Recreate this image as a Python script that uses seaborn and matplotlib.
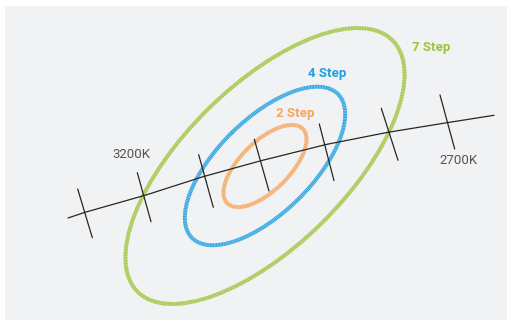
import matplotlib
matplotlib.use("Agg")
import matplotlib.pyplot as plt
import seaborn as sns
from matplotlib.patches import Ellipse

# Planckian locus (diagram units, y grows downward)
locus_x = [68, 85, 146, 203, 261, 327, 388, 447, 494]
locus_y = [218, 212.3, 195, 176.7, 160.7, 144.3, 132.3, 122.7, 115.3]

# isotemperature ticks, 3300K .. 2700K
tick_cct = [3300, 3200, 3100, 3000, 2900, 2800, 2700]
tick_x0 = [77.7, 137.3, 198.7, 254.3, 319.3, 381.3, 440]
tick_y0 = [189, 172.7, 154.7, 139.3, 124, 108.3, 95]
tick_x1 = [92.3, 151, 213.3, 269, 334, 398, 454.7]
tick_y1 = [237.7, 221.7, 207.3, 191, 180.7, 160.3, 149]

# MacAdam ellipses
step_names = ["2 Step", "4 Step", "7 Step"]
step_width = [106, 205, 358]
step_height = [49, 94, 161]
step_colors = ["#f6a55a", "#1e9fe0", "#9fc43c"]
center_x, center_y, tilt = 265, 166, -44.5
label_x = [295.5, 327, 431]
label_y = [114, 73, 48]

cct_labels = ["3200K", "2700K"]
cct_label_x = [131, 459]
cct_label_y = [155, 161]

sns.set_theme(style="white")
plt.rcParams["font.family"] = ["Roboto", "DejaVu Sans"]

fig = plt.figure(figsize=(5.07, 3.2), dpi=100)
fig.patch.set_facecolor("white")
ax = fig.add_axes([5 / 507, 0, 502 / 507, 314 / 320])
ax.set_facecolor("#f1f2f4")

# striped outline: pale base plus fine dashes on top
for w, h, c in zip(step_width, step_height, step_colors):
    ax.add_patch(Ellipse((center_x, center_y), w, h, angle=tilt, fill=False,
                         edgecolor=c, lw=2.8, alpha=0.5))
    ax.add_patch(Ellipse((center_x, center_y), w, h, angle=tilt, fill=False,
                         edgecolor=c, lw=2.8, linestyle=(0, (0.2, 0.2))))

sns.lineplot(x=locus_x, y=locus_y, sort=False, color="#262626", lw=0.9, ax=ax)
for x0, y0, x1, y1 in zip(tick_x0, tick_y0, tick_x1, tick_y1):
    ax.plot([x0, x1], [y0, y1], color="#262626", lw=0.9)

for name, x, y, c in zip(step_names, label_x, label_y, step_colors):
    ax.text(x, y, name, color=c, fontsize=9.5, fontweight="bold",
            ha="center", va="center")
for name, x, y in zip(cct_labels, cct_label_x, cct_label_y):
    ax.text(x, y, name, color="#555555", fontsize=9.5, ha="center", va="center")

ax.set_xlim(5, 507)
ax.set_ylim(320, 6)
for s in ax.spines.values():
    s.set_visible(False)
ax.set_xticks([])
ax.set_yticks([])
ax.set_xlabel("")
ax.set_ylabel("")

fig.savefig("out.png", dpi=100, facecolor="white")
